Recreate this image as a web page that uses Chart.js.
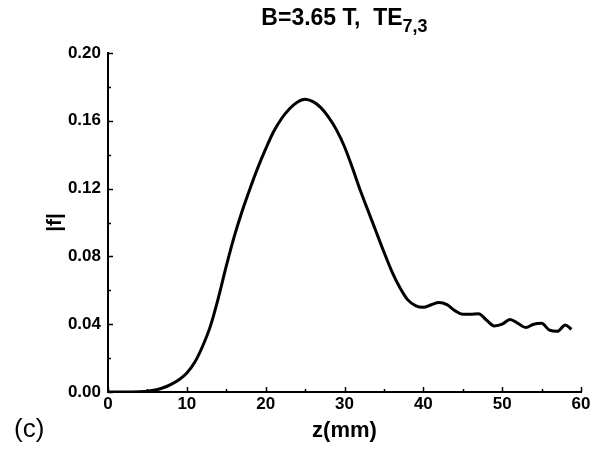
<!DOCTYPE html>
<html>
<head>
<meta charset="utf-8">
<script src="https://cdn.jsdelivr.net/npm/chart.js@4/dist/chart.umd.min.js"></script>
<style>
  body { margin: 0; background: #fff; }
  #wrap { position: relative; width: 610px; height: 450px; }
  #title { position: absolute; left: 0; width: 689px; top: 4px; text-align: center;
           font: bold 23px "Liberation Sans", Arial, sans-serif; color: #000; }
  #title sub { font-size: 18px; vertical-align: -7px; line-height: 0; }
  #panel { position: absolute; left: 14px; top: 413px; font: 26px "Liberation Sans", Arial, sans-serif; color: #000; }
</style>
</head>
<body>
<div id="wrap">
  <canvas id="chart" width="610" height="450"></canvas>
  <div id="title">B=3.65 T,&nbsp; TE<sub>7,3</sub></div>
  <div id="panel">(c)</div>
</div>
<script>
// ========== DATA ==========
const zValues = [0, 2, 4, 5, 6, 7, 8, 9, 10, 11, 12, 13, 14, 15, 16, 17, 18, 19, 20,
  21, 22, 23, 24, 25, 26, 27, 28, 29, 30, 31, 32, 33, 34, 35, 36, 37, 38, 39, 40,
  41, 42, 43, 44, 45, 46, 47, 48, 49, 50, 51, 52, 53, 54, 55, 56, 57, 58, 58.8];
const fValues = [0, 0, 0.0002, 0.0005, 0.0012, 0.0025, 0.0045, 0.0072, 0.0112, 0.0175, 0.027, 0.039, 0.0555, 0.0742, 0.0915, 0.1065, 0.1198, 0.1322, 0.1434,
  0.1535, 0.1612, 0.1670, 0.1710, 0.1727, 0.1713, 0.1678, 0.1620, 0.1545, 0.1447, 0.1323, 0.1190, 0.1068, 0.0947, 0.0826, 0.0712, 0.0618, 0.0545, 0.0510, 0.0500,
  0.0515, 0.0528, 0.0515, 0.048, 0.0458, 0.0458, 0.0462, 0.0425, 0.039, 0.040, 0.0428, 0.0405, 0.038, 0.040, 0.0405, 0.0365, 0.0358, 0.0395, 0.037];
const xTicks = [0, 10, 20, 30, 40, 50, 60];
const yTicks = [0.00, 0.04, 0.08, 0.12, 0.16, 0.20];

const FONT = '"Liberation Sans", Arial, sans-serif';

// inward major/minor ticks drawn through the scales
const innerTicks = {
  id: 'innerTicks',
  afterDraw(chart) {
    const { ctx, scales: { x, y } } = chart;
    ctx.save();
    ctx.strokeStyle = '#000';
    ctx.lineWidth = 1.5;
    ctx.beginPath();
    for (let v = 0; v <= 60; v += 5) {
      const px = Math.round(x.getPixelForValue(v)) + 0.5;
      const len = v % 10 === 0 ? 5 : 3;
      ctx.moveTo(px, y.bottom); ctx.lineTo(px, y.bottom - len);
    }
    for (let i = 0; i <= 10; i++) {
      const py = Math.round(y.getPixelForValue(i * 0.02)) + 0.5;
      const len = i % 2 === 0 ? 5 : 3;
      ctx.moveTo(x.left, py); ctx.lineTo(x.left + len, py);
    }
    ctx.stroke();
    ctx.restore();
  }
};

new Chart(document.getElementById('chart'), {
  type: 'line',
  data: {
    datasets: [{
      data: zValues.map((z, i) => ({ x: z, y: fValues[i] })),
      borderColor: '#000', borderWidth: 3, pointRadius: 0,
      cubicInterpolationMode: 'monotone', fill: false
    }]
  },
  options: {
    responsive: false, animation: false,
    layout: { padding: { top: 53, right: 29, bottom: 0, left: 0 } },
    plugins: { legend: { display: false }, tooltip: { enabled: false } },
    scales: {
      x: {
        type: 'linear', min: 0, max: 60,
        afterFit: s => { s.height = 58; },
        afterBuildTicks: s => { s.ticks = xTicks.map(v => ({ value: v })); },
        grid: { display: false, drawTicks: false },
        border: { display: true, color: '#000', width: 2 },
        ticks: { color: '#000', padding: 2, font: { family: FONT, size: 17, weight: 'bold' } },
        title: { display: true, text: 'z(mm)', color: '#000', padding: { top: 0, bottom: 6 },
                 font: { family: FONT, size: 22, weight: 'bold' } }
      },
      y: {
        type: 'linear', min: 0, max: 0.2,
        afterFit: s => { s.width = 108; },
        afterBuildTicks: s => { s.ticks = yTicks.map(v => ({ value: v })); },
        grid: { display: false, drawTicks: false },
        border: { display: true, color: '#000', width: 2 },
        ticks: { color: '#000', padding: 7, callback: v => v.toFixed(2),
                 font: { family: FONT, size: 17, weight: 'bold' } },
        title: { display: true, text: '|f|', color: '#000', padding: { top: 43, bottom: 0 },
                 font: { family: FONT, size: 21, weight: 'bold' } }
      }
    }
  },
  plugins: [innerTicks]
});
</script>
</body>
</html>
